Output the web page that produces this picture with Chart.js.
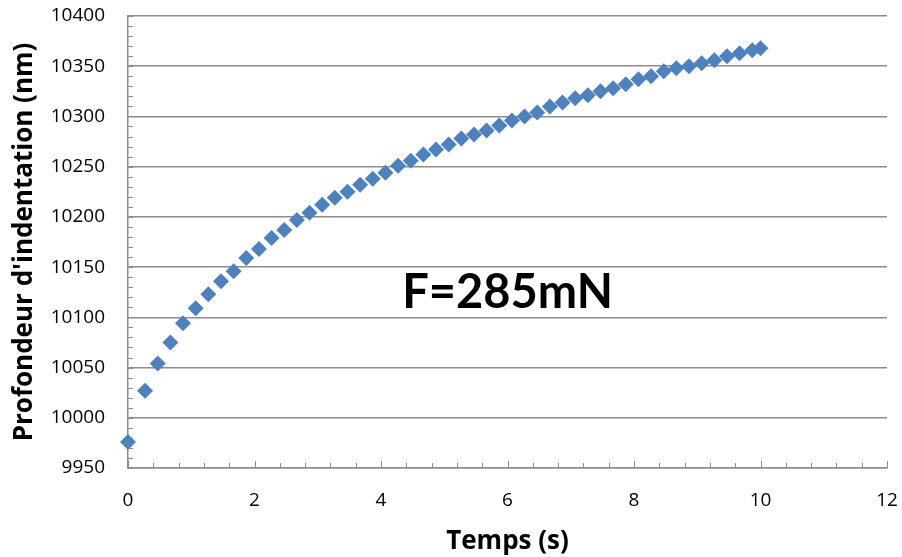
<!DOCTYPE html>
<html>
<head>
<meta charset="utf-8">
<script src="https://cdn.jsdelivr.net/npm/chart.js@4/dist/chart.umd.min.js"></script>
<style>
  html, body { margin: 0; padding: 0; background: #fff; }
  #chart { display: block; }
</style>
</head>
<body>
<canvas id="chart" width="902" height="557"></canvas>
<script>
// temps (s) et profondeur (nm)
let times = [
  0, 0.27, 0.47, 0.67, 0.87, 1.07, 1.27, 1.47, 1.67, 1.87,
  2.07, 2.27, 2.47, 2.67, 2.87, 3.07, 3.27, 3.47, 3.67, 3.87,
  4.07, 4.27, 4.47, 4.67, 4.87, 5.07, 5.27, 5.47, 5.67, 5.87,
  6.07, 6.27, 6.47, 6.67, 6.87, 7.07, 7.27, 7.47, 7.67, 7.87,
  8.07, 8.27, 8.47, 8.67, 8.87, 9.07, 9.27, 9.47, 9.67, 9.87,
  10,
]
let depths = [
  9976, 10027, 10054, 10075, 10094, 10109, 10123, 10136, 10146, 10159,
  10168, 10179, 10187, 10197, 10204, 10212, 10219, 10225, 10232, 10238,
  10244, 10251, 10256, 10262, 10267, 10272, 10278, 10282, 10286, 10291,
  10296, 10300, 10304, 10310, 10314, 10318, 10321, 10325, 10328, 10332,
  10337, 10340, 10345, 10348, 10350, 10353, 10356, 10360, 10363, 10366,
  10368,
]
let xTitle = 'Temps (s)'
let yTitle = "Profondeur d'indentation (nm)"
let label = 'F=285mN'
let xRange = [0, 12]
let yRange = [9950, 10400]

let axisGrey = '#8c8c8c'
let markerBlue = '#4F81BD'

function toPoints(xs, ys) {
  let result = []
  for (let i = 0; i < xs.length; ++i)
    result.push({x: xs[i], y: ys[i]})
  return result
}

// petites graduations vers l'intérieur, à la façon d'Excel
let innerTicks = {
  id: 'innerTicks',
  beforeDatasetsDraw(chart) {
    let {ctx, chartArea, scales: {x, y}} = chart
    ctx.save()
    ctx.strokeStyle = axisGrey
    ctx.lineWidth = 1
    ctx.beginPath()
    for (let i = 0; i <= 30; ++i) {
      let v = xRange[0] + i * 0.4
      let px = Math.round(x.getPixelForValue(v)) + 0.5
      let len = (i % 5 === 0) ? 7 : 5
      ctx.moveTo(px, chartArea.bottom)
      ctx.lineTo(px, chartArea.bottom - len)
    }
    for (let i = 0; i <= 45; ++i) {
      let v = yRange[0] + i * 10
      let py = Math.round(y.getPixelForValue(v)) + 0.5
      ctx.moveTo(chartArea.left, py)
      ctx.lineTo(chartArea.left + 5, py)
    }
    ctx.stroke()
    ctx.restore()
  },
  afterDraw(chart) {
    let {ctx, chartArea} = chart
    ctx.save()
    ctx.fillStyle = '#000'
    ctx.font = 'bold 47px Lato'
    ctx.textAlign = 'center'
    ctx.textBaseline = 'alphabetic'
    ctx.fillText(label, chartArea.left + 0.5 * (chartArea.right - chartArea.left), 308)
    ctx.restore()
  },
}

let tickFont = {family: 'Open Sans', size: 19}
let titleFont = {family: 'Open Sans', size: 26, weight: 'bold'}

let ctx = document.getElementById('chart').getContext('2d')
let chart = new Chart(ctx, {
  type: 'scatter',
  data: {
    datasets: [{
      data: toPoints(times, depths),
      pointStyle: 'rectRot',
      pointRadius: 8,
      pointHoverRadius: 8,
      backgroundColor: markerBlue,
      borderColor: markerBlue,
      borderWidth: 0,
      showLine: false,
      clip: false,
    }],
  },
  plugins: [innerTicks],
  options: {
    responsive: false,
    animation: false,
    events: [],
    layout: {
      autoPadding: false,
      padding: {left: 0, right: 15, top: 16, bottom: 0},
    },
    plugins: {
      legend: {display: false},
      tooltip: {enabled: false},
    },
    scales: {
      x: {
        type: 'linear',
        min: xRange[0],
        max: xRange[1],
        afterFit(scale) { scale.height = 89 },
        border: {display: true, color: axisGrey, width: 1.5},
        // marks hidden, tickLength only spaces the labels
        grid: {
          display: true,
          drawOnChartArea: false,
          color: 'transparent',
          tickColor: 'transparent',
          tickLength: 21,
        },
        ticks: {
          stepSize: 2,
          padding: 0,
          color: '#000',
          font: tickFont,
          callback: v => String(v),
        },
        title: {
          display: true,
          text: xTitle,
          color: '#000',
          font: titleFont,
          padding: {top: 0, bottom: 0},
        },
      },
      y: {
        type: 'linear',
        min: yRange[0],
        max: yRange[1],
        afterFit(scale) { scale.width = 128 },
        border: {display: true, color: axisGrey, width: 1.5},
        grid: {
          color: axisGrey,
          lineWidth: 1.5,
          tickColor: 'transparent',
          tickLength: 23,
        },
        ticks: {
          stepSize: 50,
          padding: 0,
          color: '#000',
          font: tickFont,
          callback: v => String(v),
        },
        title: {
          display: true,
          text: yTitle,
          color: '#000',
          font: titleFont,
          padding: {top: 9, bottom: 0},
        },
      },
    },
  },
})
</script>
</body>
</html>
